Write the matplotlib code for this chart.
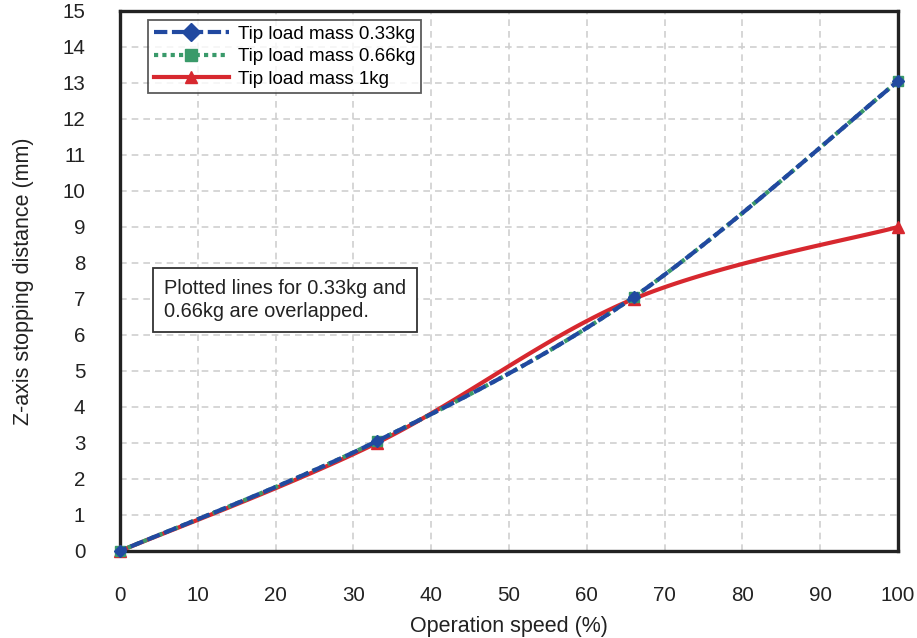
import matplotlib
matplotlib.use("Agg")
import matplotlib.pyplot as plt
import numpy as np

plt.rcParams['font.family'] = ['Liberation Sans', 'DejaVu Sans']

speed = [0, 33, 66, 100]
dist_033 = [0, 3.05, 7.05, 13.05]
dist_066 = [0, 3.05, 7.05, 13.05]
dist_1 = [0, 3.0, 7.0, 9.0]

xticks = list(range(0, 101, 10))
yticks = list(range(0, 16))


def smooth(xs, ys, n=40):
    # Excel-style smoothed line (Catmull-Rom through the points)
    px = np.array(xs, float)
    py = np.array(ys, float)
    ox, oy = [], []
    for i in range(len(px) - 1):
        p0 = np.array([px[max(i - 1, 0)], py[max(i - 1, 0)]])
        p1 = np.array([px[i], py[i]])
        p2 = np.array([px[i + 1], py[i + 1]])
        p3 = np.array([px[min(i + 2, len(px) - 1)], py[min(i + 2, len(px) - 1)]])
        c1 = p1 + (p2 - p0) / 6
        c2 = p2 - (p3 - p1) / 6
        t = np.linspace(0, 1, n)[:, None]
        pts = (1 - t) ** 3 * p1 + 3 * (1 - t) ** 2 * t * c1 + 3 * (1 - t) * t ** 2 * c2 + t ** 3 * p2
        ox.extend(pts[:, 0])
        oy.extend(pts[:, 1])
    return ox, oy


fig = plt.figure(figsize=(9.17, 6.38), dpi=100)
ax = fig.add_axes([0.1309, 0.1364, 0.8484, 0.8464])

blue = '#2149a0'
green = '#3a9a6a'
red = '#d7282f'
lw = 3.0
dash = (0, (3.2, 1.1))
dots = (0, (1.0, 1.0))

sx, sy = smooth(speed, dist_1)
ax.plot(sx, sy, color=red, lw=lw, zorder=3, solid_capstyle='butt')
ax.plot(speed, dist_1, ls='none', marker='^', color=red, ms=9, zorder=4, clip_on=False)

sx, sy = smooth(speed, dist_066)
ax.plot(sx, sy, color=green, lw=lw, ls=dots, zorder=5)
ax.plot(speed, dist_066, ls='none', marker='s', color=green, ms=7, zorder=5, clip_on=False)

sx, sy = smooth(speed, dist_033)
ax.plot(sx, sy, color=blue, lw=lw, ls=(1.5, (3.2, 1.1)), zorder=6)
ax.plot(speed, dist_033, ls='none', marker='D', color=blue, ms=6, zorder=6, clip_on=False)

# legend proxies
h1, = ax.plot([], [], color=blue, lw=lw, ls=dash, marker='D', ms=9)
h2, = ax.plot([], [], color=green, lw=lw, ls=dots, marker='s', ms=8)
h3, = ax.plot([], [], color=red, lw=lw, marker='^', ms=9)
leg = ax.legend([h1, h2, h3], ['Tip load mass 0.33kg', 'Tip load mass 0.66kg', 'Tip load mass 1kg'],
                loc='upper left', bbox_to_anchor=(0.036, 0.983), fontsize=13.5, frameon=True,
                fancybox=False, edgecolor='#333333', handlelength=4.0, handletextpad=0.5,
                labelspacing=0.28, borderpad=0.3, borderaxespad=0)
leg.get_frame().set_linewidth(1.3)

ax.text(0.0566, 0.465, 'Plotted lines for 0.33kg and\n0.66kg are overlapped.', transform=ax.transAxes,
        fontsize=14.4, va='center', ha='left', linespacing=1.3, zorder=7, color='#222222',
        bbox=dict(boxstyle='square,pad=0.55', fc='white', ec='#333333', lw=1.3))

ax.set_xlim(0, 100)
ax.set_ylim(0, 15)
ax.set_xticks(xticks)
ax.set_yticks(yticks)
ax.tick_params(length=0, labelsize=14.8, pad=25, colors='#222222')
ax.grid(True, color='#cfcfcf', ls=(0, (4, 3)), lw=1.2)
ax.set_axisbelow(True)
for s in ax.spines.values():
    s.set_linewidth(2.4)
    s.set_color('#222222')

ax.set_xlabel('Operation speed (%)', fontsize=15.5, color='#222222', va='center')
ax.set_ylabel('Z-axis stopping distance (mm)', fontsize=15.5, color='#222222', va='center')
ax.xaxis.set_label_coords(0.5, -0.139)
ax.yaxis.set_label_coords(-0.1247, 0.5)

fig.savefig('out.png', dpi=100)
